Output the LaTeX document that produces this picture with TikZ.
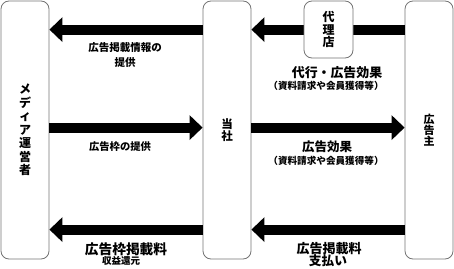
\documentclass[tikz,border=0pt]{standalone}
\usepackage{fontspec}
\setmainfont{Noto Sans CJK JP}
\usetikzlibrary{arrows.meta}
\tikzset{party/.style = {shape = rectangle, draw = black!55, line width = 0.8pt, rounded corners = 8pt, minimum width = 48pt, minimum height = 258pt, align = center, inner sep = 0pt, font = \fontsize{12}{13}\selectfont\bfseries}}
\tikzset{flow/.style = {-{Triangle[length = 13pt, width = 24pt]}, line width = 10pt}}
\tikzset{note/.style = {inner sep = 0pt, font = \fontsize{#1}{#1}\selectfont\bfseries}}

\begin{document}
\begin{tikzpicture}[x = 1pt, y = -1pt]
	\useasboundingbox (0, 0) rectangle (454, 268);

	\node[party, font = \fontsize{12}{13.5}\selectfont\bfseries] (m) at (25, 130) {メ\\デ\\ィ\\ア\\運\\営\\者};
	\node[party, font = \fontsize{11.5}{11.5}\selectfont\bfseries] (s) at (227, 130) {当\\社};
	\node[party, font = \fontsize{11}{11}\selectfont\bfseries] (c) at (429, 130) {広\\告\\主};

	\draw[flow] ([yshift = -29pt]s.north west) -- ([yshift = -29pt]m.north east);
	\draw[flow] ([yshift = -29pt]c.north west) -- ([yshift = -29pt]s.north east);
	\draw[flow] ([yshift = -127pt]m.north east) -- ([yshift = -127pt]s.north west);
	\draw[flow] ([yshift = -127pt]s.north east) -- ([yshift = -127pt]c.north west);
	\draw[flow] ([yshift = -229pt]s.north west) -- ([yshift = -229pt]m.north east);
	\draw[flow] ([yshift = -229pt]c.north west) -- ([yshift = -229pt]s.north east);

	% agent sits on top of the upper right arrow
	\node[party, fill = white, minimum width = 49pt, minimum height = 57pt, font = \fontsize{12}{12.5}\selectfont\bfseries] (a) at (328.5, 29.5) {代\\理\\店};

	\node[note = 10.5] (l1a) at (125, 48) {広告掲載情報の};
	\node[note = 10.5] (l1b) at (125, 63) {提供};
	\node[note = 10.3] (l2) at (120, 147) {広告枠の提供};
	\node[note = 13.7] (l3a) at (126, 249) {広告枠掲載料};
	\node[note = 9.5] (l3b) at (121, 261) {収益還元};

	\node[note = 12.9] (r1a) at (337, 73) {代行・広告効果};
	\node[note = 9.6] (r1b) at (326, 86) {（資料請求や会員獲得等）};
	\node[note = 12.5] (r2a) at (327, 147) {広告効果};
	\node[note = 9.6] (r2b) at (326, 161) {（資料請求や会員獲得等）};
	\node[note = 13] (r3a) at (329, 249) {広告掲載料};
	\node[note = 12.7] (r3b) at (328, 261) {支払い};
\end{tikzpicture}
\end{document}
